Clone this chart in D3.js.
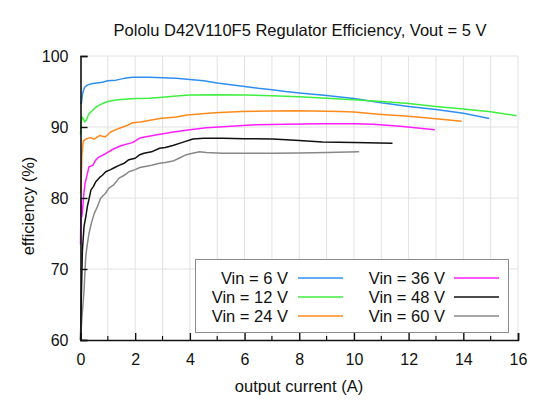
<!DOCTYPE html>
<html><head><meta charset="utf-8">
<script src="https://cdn.jsdelivr.net/npm/d3@7"></script>
<style>body{margin:0;background:#fff}svg{display:block}text{font-family:"Liberation Sans",Arial,sans-serif;fill:#111}</style>
</head><body>
<script>
const title = "Pololu D42V110F5 Regulator Efficiency, Vout = 5 V";
const xTicks = [0,2,4,6,8,10,12,14,16];
const yTicks = [60,70,80,90,100];
const seriesNames = ["Vin = 6 V","Vin = 12 V","Vin = 24 V","Vin = 36 V","Vin = 48 V","Vin = 60 V"];
const seriesColors = ["#2f8ff0","#3fef3f","#ff8a1c","#ff1eff","#111111","#888888"];

const x6 = [0,0.03,0.08,0.15,0.25,0.4,0.6,0.8,1.0,1.3,1.6,1.9,2.5,3.0,3.5,4.0,4.5,5.0,5.5,6.0,6.5,7.0,7.5,8.0,9.0,10.0,11.0,12.0,13.0,14.0,14.95];
const y6 = [93.5,93.3,94.8,95.6,95.9,96.1,96.2,96.3,96.5,96.6,96.85,97.0,97.0,96.95,96.85,96.7,96.5,96.2,95.95,95.7,95.45,95.25,95.0,94.8,94.45,94.0,93.4,92.9,92.45,91.95,91.2];

const x12 = [0,0.03,0.06,0.1,0.15,0.2,0.3,0.45,0.6,0.8,1.0,1.3,1.6,2.0,2.5,3.0,3.5,4.0,5.0,6.0,7.0,8.0,9.0,10.0,11.0,12.0,13.0,14.0,15.0,15.95];
const y12 = [88.9,90.8,91.4,91.2,90.7,90.9,91.8,92.4,92.9,93.3,93.6,93.8,93.9,94.0,94.05,94.2,94.35,94.5,94.55,94.5,94.4,94.25,94.05,93.85,93.6,93.3,92.9,92.55,92.15,91.6];

const x24 = [0,0.02,0.05,0.1,0.2,0.35,0.5,0.7,0.9,1.1,1.4,1.7,1.9,2.2,2.5,2.9,3.5,3.9,4.9,5.9,7.0,7.9,8.5,9.5,10.0,10.9,12.0,12.9,13.94];
const y24 = [80.7,81.5,86.0,88.0,88.3,88.5,88.3,88.8,88.6,89.3,89.8,90.2,90.6,90.7,90.9,91.2,91.4,91.7,92.0,92.2,92.25,92.3,92.25,92.2,92.1,91.8,91.5,91.2,90.8];

const x36 = [0,0.02,0.05,0.08,0.12,0.17,0.25,0.31,0.45,0.55,0.68,0.9,1.2,1.5,1.9,2.2,2.8,3.4,4.0,4.6,5.5,6.4,7.5,8.8,10.0,10.7,11.7,12.96];
const y36 = [73.4,79.7,77.4,78.5,80.5,82.1,83.4,84.4,84.6,85.3,85.8,86.2,86.9,87.4,87.8,88.5,88.9,89.3,89.6,89.9,90.1,90.3,90.4,90.45,90.45,90.4,90.1,89.6];

const x48 = [0,0.03,0.07,0.13,0.2,0.25,0.32,0.38,0.47,0.56,0.7,0.8,0.92,1.1,1.25,1.41,1.6,1.77,2.0,2.17,2.32,2.6,2.89,3.1,3.38,3.7,4.11,4.5,5.2,6.0,7.03,8.0,8.85,10.0,11.41];
const y48 = [60,66,72.7,76.0,77.5,78.8,80.0,81.1,81.6,82.3,82.9,83.2,83.7,84.0,84.3,84.6,84.9,85.4,85.6,86.1,86.3,86.5,87.0,87.1,87.4,87.8,88.3,88.4,88.4,88.35,88.3,88.1,87.9,87.8,87.7];

const x60 = [0,0.05,0.13,0.19,0.25,0.31,0.4,0.5,0.62,0.74,0.9,1.04,1.2,1.41,1.6,1.77,2.0,2.17,2.32,2.6,2.89,3.1,3.38,3.6,3.87,4.1,4.35,4.6,5.2,6.0,7.0,8.0,9.0,10.19];
const y60 = [60,63,67,71.7,73.5,75,76.5,77.8,78.8,80,80.6,81.4,81.8,82.8,83.2,83.7,84.0,84.3,84.4,84.6,84.9,85.0,85.2,85.6,86.1,86.3,86.5,86.4,86.3,86.3,86.3,86.35,86.4,86.5];

const seriesX = [x6,x12,x24,x36,x48,x60];
const seriesY = [y6,y12,y24,y36,y48,y60];

const W = 560, H = 400;
const svg = d3.select("body").append("svg").attr("width", W).attr("height", H);
const xs = d3.scaleLinear().domain([0,16]).range([80.5,518]);
const ys = d3.scaleLinear().domain([60,100]).range([340,56]);

// grid
const g = svg.append("g");
g.selectAll(".vg").data(d3.range(1,17)).join("line")
  .attr("x1",d=>xs(d)).attr("x2",d=>xs(d)).attr("y1",ys(60)).attr("y2",ys(100))
  .attr("stroke","#e2e2e2").attr("stroke-width",1);
g.selectAll(".hg").data(yTicks.slice(1)).join("line")
  .attr("x1",xs(0)).attr("x2",xs(16)).attr("y1",d=>ys(d)).attr("y2",d=>ys(d))
  .attr("stroke","#e2e2e2").attr("stroke-width",1);

// series
const line = d3.line().x(d=>xs(d[0])).y(d=>ys(d[1]));
seriesX.forEach((xa,i)=>{
  svg.append("path").datum(xa.map((v,j)=>[v,seriesY[i][j]]))
    .attr("d",line).attr("fill","none").attr("stroke",seriesColors[i])
    .attr("stroke-width",1.5).attr("stroke-linejoin","round");
});

// axes
const xAxis = d3.axisBottom(xs).tickValues(xTicks).tickSize(-7).tickPadding(14).tickFormat(d3.format("d"));
const xg = svg.append("g").attr("transform",`translate(0,${ys(60)})`).call(xAxis);
const yAxis = d3.axisLeft(ys).tickValues(yTicks).tickSize(-7).tickPadding(12).tickFormat(d3.format("d"));
const yg = svg.append("g").attr("transform",`translate(${xs(0)},0)`).call(yAxis);
[xg,yg].forEach(a=>{
  a.select(".domain").attr("stroke","#111").attr("stroke-width",1.6);
  a.selectAll(".tick line").attr("stroke","#111").attr("stroke-width",1.4);
  a.selectAll(".tick text").attr("font-size",16).attr("fill","#111").attr("font-family","Liberation Sans, Arial, sans-serif");
});
// minor x ticks
svg.append("g").selectAll("line").data(d3.range(1,16,2)).join("line")
  .attr("x1",d=>xs(d)).attr("x2",d=>xs(d)).attr("y1",ys(60)).attr("y2",ys(60)-4)
  .attr("stroke","#111").attr("stroke-width",1.2);

// labels
svg.append("text").attr("x",300).attr("y",36).attr("text-anchor","middle").attr("font-size",16.5).text(title);
svg.append("text").attr("x",299).attr("y",392).attr("text-anchor","middle").attr("font-size",16.5).text("output current (A)");
svg.append("text").attr("transform","translate(34,206) rotate(-90)").attr("text-anchor","middle").attr("font-size",16.5).text("efficiency (%)");

// legend
const lg = svg.append("g");
lg.append("rect").attr("x",195.5).attr("y",259.5).attr("width",313).attr("height",73)
  .attr("fill","#fff").attr("stroke","#8a8a8a").attr("stroke-width",1);
seriesNames.forEach((n,i)=>{
  const col = Math.floor(i/3), row = i%3;
  const tx = col===0 ? 288 : 445;
  const lx = col===0 ? 298 : 454;
  const yy = 278 + row*19;
  lg.append("text").attr("x",tx).attr("y",yy+6).attr("text-anchor","end").attr("font-size",16.5).text(n);
  lg.append("line").attr("x1",lx).attr("x2",lx+45).attr("y1",yy).attr("y2",yy)
    .attr("stroke",seriesColors[i]).attr("stroke-width",1.5);
});
</script>
</body></html>
